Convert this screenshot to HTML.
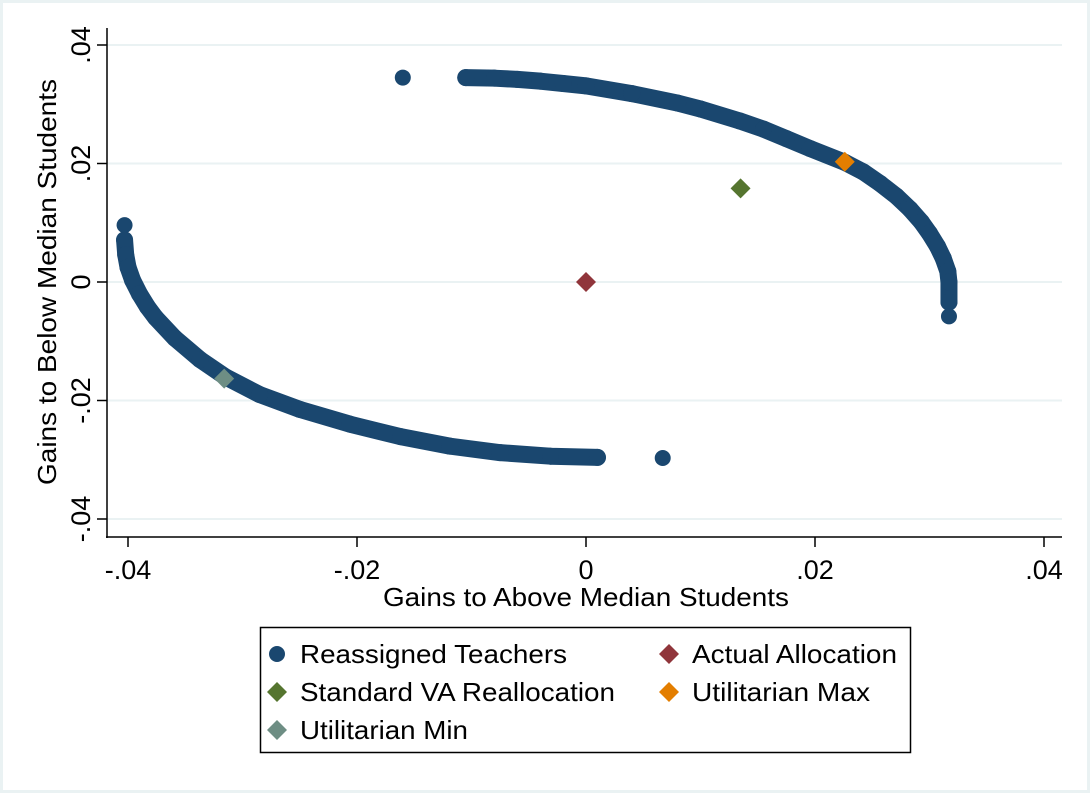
<!DOCTYPE html>
<html><head><meta charset="utf-8"><style>
html,body{margin:0;padding:0;background:#fff}
svg{display:block;font-family:"Liberation Sans",Arial,sans-serif}
</style></head><body>
<svg id="chart" width="1090" height="793" viewBox="0 0 1090 793">
<rect x="1.5" y="1.5" width="1087" height="790" fill="#fff" stroke="#eaf2f3" stroke-width="3"/>
<g id="grid"></g>
<g id="axes"></g>
<g id="marks"></g>
<text x="383" y="606" font-size="26" textLength="406" lengthAdjust="spacingAndGlyphs">Gains to Above Median Students</text>
<text transform="translate(56,282) rotate(-90)" x="-203" font-size="26" textLength="406" lengthAdjust="spacingAndGlyphs">Gains to Below Median Students</text>
<g>
<rect x="260.5" y="627.5" width="650" height="125" fill="#fff" stroke="#000" stroke-width="1.5"/>
<g><circle cx="277" cy="654" r="8" fill="#1a476f"/><text x="300" y="663" font-size="26" textLength="267" lengthAdjust="spacingAndGlyphs">Reassigned Teachers</text></g>
<g><path d="M669 644 L679 654 L669 664 L659 654Z" fill="#90353b"/><text x="692" y="663" font-size="26" textLength="205" lengthAdjust="spacingAndGlyphs">Actual Allocation</text></g>
<g><path d="M277 682 L287 692 L277 702 L267 692Z" fill="#55752f"/><text x="300" y="701" font-size="26" textLength="315" lengthAdjust="spacingAndGlyphs">Standard VA Reallocation</text></g>
<g><path d="M669 682 L679 692 L669 702 L659 692Z" fill="#e37e00"/><text x="692" y="701" font-size="26" textLength="178" lengthAdjust="spacingAndGlyphs">Utilitarian Max</text></g>
<g><path d="M277 720 L287 730 L277 740 L267 730Z" fill="#6e8e84"/><text x="300" y="739" font-size="26" textLength="168" lengthAdjust="spacingAndGlyphs">Utilitarian Min</text></g>
</g>
</svg>
<script>
const xTicks=[-0.04,-0.02,0,0.02,0.04];
const yTicks=[0.04,0.02,0,-0.02,-0.04];
const xTickLabels=["-.04","-.02","0",".02",".04"];
const yTickLabels=[".04",".02","0","-.02","-.04"];
const upperX=[-0.0105,-0.008,-0.006,-0.004,-0.002,0,0.004,0.008,0.010,0.0134,0.0155,0.0175,0.0196,0.0226,0.0242,0.0257,0.0271,0.0283,0.0293,0.0300,0.0307,0.0312,0.0316,0.0317,0.0317];
const upperY=[0.0345,0.0344,0.0342,0.0339,0.0335,0.0331,0.0318,0.0302,0.0292,0.0272,0.0258,0.0242,0.0225,0.0202,0.0186,0.0166,0.0145,0.0123,0.0101,0.0082,0.0060,0.0040,0.0018,0.0000,-0.0034];
const lowerX=[-0.0403,-0.0402,-0.0400,-0.0396,-0.0390,-0.0383,-0.0376,-0.0359,-0.0337,-0.0315,-0.0285,-0.0250,-0.0206,-0.0162,-0.0119,-0.0075,-0.0031,0.0010];
const lowerY=[0.0071,0.0046,0.0025,0.0003,-0.0020,-0.0042,-0.0060,-0.0095,-0.0131,-0.0160,-0.0190,-0.0215,-0.0240,-0.0261,-0.0277,-0.0288,-0.0294,-0.0296];
const isoX=[-0.016,0.0317,-0.0403,0.0067];
const isoY=[0.0345,-0.0058,0.0096,-0.0297];
const diaNames=["actual-allocation","standard-va-reallocation","utilitarian-max","utilitarian-min"];
const diaX=[0,0.0135,0.0226,-0.0316];
const diaY=[0,0.0158,0.0203,-0.0163];
const diaColors=["#90353b","#55752f","#e37e00","#6e8e84"];
const NS="http://www.w3.org/2000/svg";
const sx=v=>586+v*11450;
const sy=v=>282-v*5925;
const mk=(t,a,p)=>{const e=document.createElementNS(NS,t);for(const k in a)e.setAttribute(k,a[k]);p.appendChild(e);return e;};
const grid=document.getElementById('grid'),axes=document.getElementById('axes'),marks=document.getElementById('marks');
yTicks.forEach((v,i)=>{
 const g=mk('line',{x1:107,x2:1062,y1:sy(v),y2:sy(v),stroke:'#eaf2f3','stroke-width':2},grid);
 
 
 const t=mk('line',{x1:97,x2:107,y1:sy(v),y2:sy(v),stroke:'#000','stroke-width':1.5},axes);
 
 
 const l=mk('text',{transform:`translate(90,${sy(v)}) rotate(-90)`,'font-size':27,'text-anchor':'middle'},axes);
 l.textContent=yTickLabels[i];
 
 
});
xTicks.forEach((v,i)=>{
 const t=mk('line',{x1:sx(v),x2:sx(v),y1:537,y2:547,stroke:'#000','stroke-width':1.5},axes);
 
 
 const l=mk('text',{x:sx(v),y:579,'font-size':27,'text-anchor':'middle'},axes);
 l.textContent=xTickLabels[i];
 
 
});
const ya=mk('line',{x1:107,x2:107,y1:28,y2:538,stroke:'#000','stroke-width':1.5},axes);


const xa=mk('line',{x1:106,x2:1062,y1:537,y2:537,stroke:'#000','stroke-width':1.5},axes);


function band(X,Y,name){
 const d=X.map((v,i)=>(i?'L':'M')+sx(v)+' '+sy(Y[i])).join(' ');
 const p=mk('path',{d:d,fill:'none',stroke:'#1a476f','stroke-width':17,'stroke-linecap':'round','stroke-linejoin':'round'},marks);
 
 
 X.forEach((v,i)=>{
  const c=mk('circle',{cx:sx(v),cy:sy(Y[i]),r:8.5,fill:'#1a476f'},marks);
  
  
 });
}
band(upperX,upperY,'upper-frontier');
band(lowerX,lowerY,'lower-frontier');
isoX.forEach((v,i)=>{
 const c=mk('circle',{cx:sx(v),cy:sy(isoY[i]),r:8,fill:'#1a476f'},marks);
 
 
});
diaX.forEach((v,i)=>{
 const x=sx(v),y=sy(diaY[i]);
 const p=mk('path',{d:`M${x} ${y-10} L${x+10} ${y} L${x} ${y+10} L${x-10} ${y}Z`,fill:diaColors[i]},marks);
 
 
});
</script>
</body></html>
